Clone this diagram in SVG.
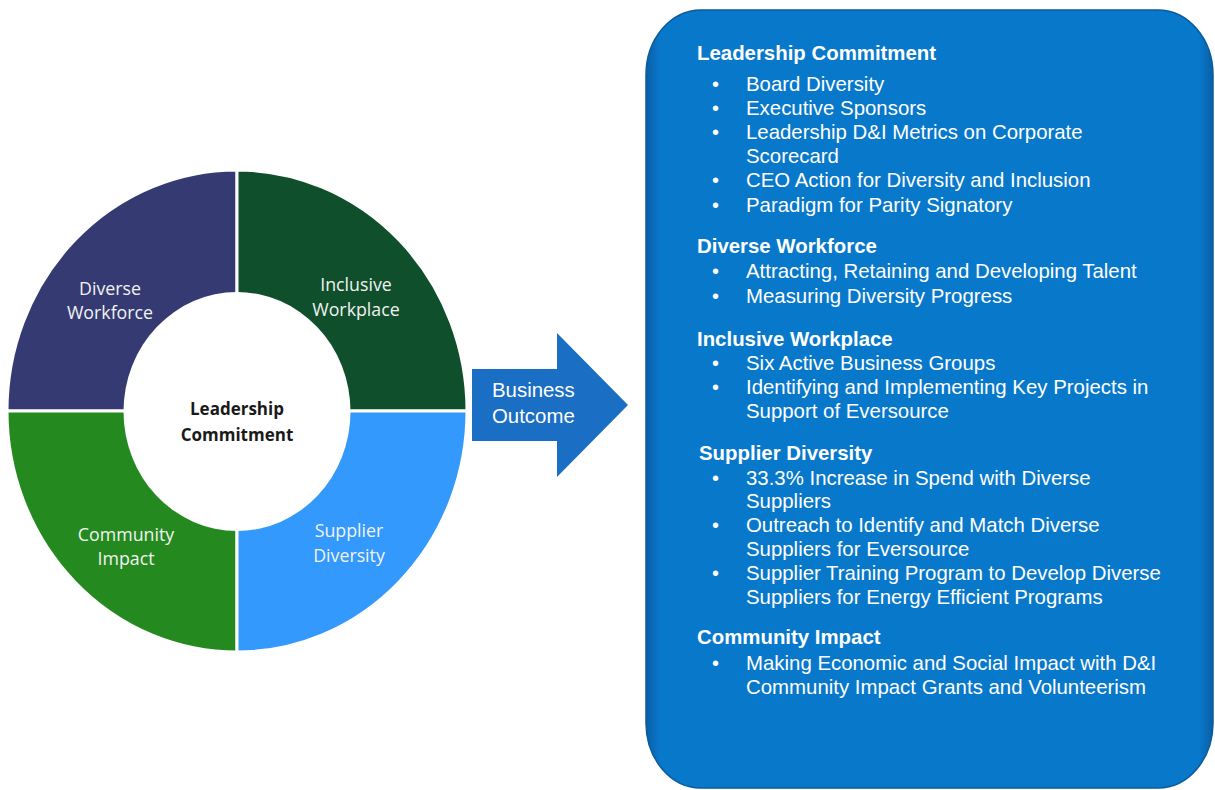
<svg xmlns="http://www.w3.org/2000/svg" width="1215" height="790" viewBox="0 0 1215 790">
<defs>
<style>
.seg{stroke:#fff;stroke-width:3}
.wl{font-family:"Open Sans","Noto Sans",sans-serif;font-size:17.8px;fill:#f2f2f2;text-anchor:middle}
.cl{font-family:"Open Sans","Noto Sans",sans-serif;font-size:17px;font-weight:bold;fill:#1a1a1a;text-anchor:middle}
.h{font-family:"Liberation Sans",Arial,sans-serif;font-size:20.4px;font-weight:bold;fill:#fff}
.t{font-family:"Liberation Sans",Arial,sans-serif;font-size:20.4px;fill:#fff}
.b{font-family:"Liberation Sans",Arial,sans-serif;font-size:20px;fill:#fff}
</style>
<linearGradient id="boxedge" x1="0" y1="0" x2="1" y2="0">
<stop offset="0" stop-color="#0a5fa6"/>
<stop offset="0.025" stop-color="#0878cb"/>
<stop offset="0.975" stop-color="#0878cb"/>
<stop offset="1" stop-color="#0a5fa6"/>
</linearGradient>
</defs>
<rect width="1215" height="790" fill="#fff"/>

<g id="donut">
<g id="diverse-workforce">
<path class="seg" d="M237,411 L7,411 A230,241 0 0 1 237,170 Z" fill="#353b72"/>
<text class="wl" x="110" y="295">Diverse</text>
<text class="wl" x="110" y="319">Workforce</text>
</g>
<g id="inclusive-workplace">
<path class="seg" d="M237,411 L237,170 A230,241 0 0 1 467,411 Z" fill="#0f4f2b"/>
<text class="wl" x="356" y="291">Inclusive</text>
<text class="wl" x="356" y="316">Workplace</text>
</g>
<g id="community-impact">
<path class="seg" d="M237,411 L237,652 A230,241 0 0 1 7,411 Z" fill="#248a1f"/>
<text class="wl" x="126" y="541">Community</text>
<text class="wl" x="126" y="565">Impact</text>
</g>
<g id="supplier-diversity">
<path class="seg" d="M237,411 L467,411 A230,241 0 0 1 237,652 Z" fill="#3399fd"/>
<text class="wl" x="349" y="537">Supplier</text>
<text class="wl" x="349" y="562">Diversity</text>
</g>
<g id="leadership-commitment">
<ellipse cx="237" cy="411.5" rx="113.5" ry="119.5" fill="#fff"/>
<text class="cl" x="237" y="415">Leadership</text>
<text class="cl" x="237" y="441">Commitment</text>
</g>
</g>

<g id="connectors">
<g id="business-outcome">
<path d="M472,369 L557,369 L557,333 L628,405 L557,477 L557,441 L472,441 Z" fill="#1a6ec4"/>
<text class="t" x="492" y="397" font-size="18.5">Business</text>
<text class="t" x="492" y="423" font-size="18.5">Outcome</text>
</g>
</g>

<g id="outcome-box">
<rect x="646" y="10" width="567" height="778" rx="55" ry="65" fill="url(#boxedge)" stroke="#0a5a9c" stroke-width="1.5"/>
<text class="h" x="697" y="60">Leadership Commitment</text>
<text class="b" x="712" y="91">•</text><text class="t" x="746" y="91">Board Diversity</text>
<text class="b" x="712" y="115">•</text><text class="t" x="746" y="115">Executive Sponsors</text>
<text class="b" x="712" y="139">•</text><text class="t" x="746" y="139">Leadership D&amp;I Metrics on Corporate</text>
<text class="t" x="746" y="163">Scorecard</text>
<text class="b" x="712" y="187">•</text><text class="t" x="746" y="187">CEO Action for Diversity and Inclusion</text>
<text class="b" x="712" y="212">•</text><text class="t" x="746" y="212">Paradigm for Parity Signatory</text>

<text class="h" x="697" y="253">Diverse Workforce</text>
<text class="b" x="712" y="278">•</text><text class="t" x="746" y="278">Attracting, Retaining and Developing Talent</text>
<text class="b" x="712" y="303">•</text><text class="t" x="746" y="303">Measuring Diversity Progress</text>

<text class="h" x="697" y="346">Inclusive Workplace</text>
<text class="b" x="712" y="370">•</text><text class="t" x="746" y="370">Six Active Business Groups</text>
<text class="b" x="712" y="394">•</text><text class="t" x="746" y="394">Identifying and Implementing Key Projects in</text>
<text class="t" x="746" y="418">Support of Eversource</text>

<text class="h" x="699" y="460">Supplier Diversity</text>
<text class="b" x="712" y="485">•</text><text class="t" x="746" y="485">33.3% Increase in Spend with Diverse</text>
<text class="t" x="746" y="508">Suppliers</text>
<text class="b" x="712" y="532">•</text><text class="t" x="746" y="532">Outreach to Identify and Match Diverse</text>
<text class="t" x="746" y="556">Suppliers for Eversource</text>
<text class="b" x="712" y="580">•</text><text class="t" x="746" y="580">Supplier Training Program to Develop Diverse</text>
<text class="t" x="746" y="604">Suppliers for Energy Efficient Programs</text>

<text class="h" x="697" y="644">Community Impact</text>
<text class="b" x="712" y="670">•</text><text class="t" x="746" y="670">Making Economic and Social Impact with D&amp;I</text>
<text class="t" x="746" y="694">Community Impact Grants and Volunteerism</text>
</g>
</svg>
